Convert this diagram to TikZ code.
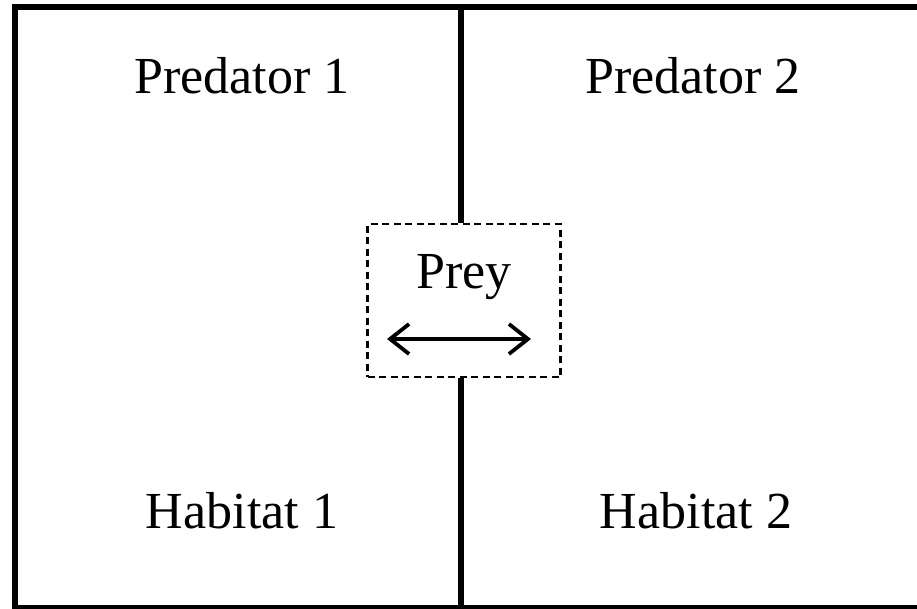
\documentclass[tikz,border=0pt]{standalone}
\usepackage{fontspec}
\setmainfont{Liberation Serif}
\usetikzlibrary{arrows.meta}

\tikzset{
  label/.style={font=\fontsize{52}{60}\selectfont, anchor=base, inner sep=0pt},
  wall/.style={line width=6.5pt},
  preybox/.style={draw, line width=2.3pt, dash pattern=on 7pt off 4.5pt,
    minimum width=193pt, minimum height=153pt, inner sep=0pt},
  barb/.tip={Straight Barb[length=19pt, width=30pt, line width=3.8pt]}
}

\begin{document}
\begin{tikzpicture}[x=1pt, y=-1pt]
    % Marco de la figura
    \useasboundingbox (0,0) rectangle (917,608);
    \clip (0,0) rectangle (917,608);

    % Borde exterior
    \draw[wall] (15,7) rectangle (924,608);

    % Caja de la presa
    \node[preybox] (preybox) at (464,300.5) {};
    \node[label] (prey) at (464,288) {Prey};
    \coordinate (left) at (387,339);
    \coordinate (right) at (531,339);
    \draw[line width=3.5pt, barb-barb] (left) -- (right);

    % Pared del medio
    \coordinate (top) at (461,7);
    \coordinate (bottom) at (461,608);
    \draw[wall] (top) -- (top |- preybox.north);
    \draw[wall] (bottom |- preybox.south) -- (bottom);

    % Etiquetas
    \node[label] (pred1) at (242,93) {Predator 1};
    \node[label] (pred2) at (693,93) {Predator 2};
    \node[label] (hab1) at (242,528) {Habitat 1};
    \node[label] (hab2) at (696,528) {Habitat 2};
\end{tikzpicture}
\end{document}
